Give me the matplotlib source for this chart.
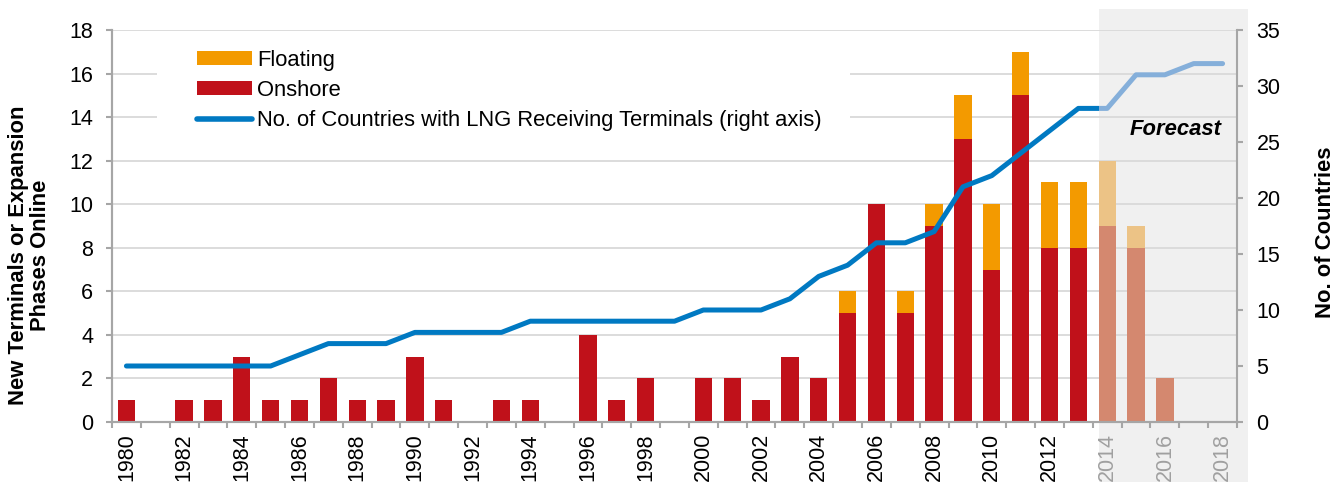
"""LNG receiving terminals: new capacity phases per year with country count."""

import matplotlib

matplotlib.use("Agg")
import matplotlib.pyplot as plt
import matplotlib.transforms as mtransforms
from matplotlib.lines import Line2D
from matplotlib.patches import Patch, Rectangle
import numpy as np

plt.rcParams.update(
    {
        "font.family": ["Liberation Sans", "DejaVu Sans"],
        "font.size": 15.5,
        "text.color": "black",
    }
)

RED = "#C0111A"
ORANGE = "#F39A00"
RED_FC = "#D4886F"
ORANGE_FC = "#ECC386"
BLUE = "#0079C2"
BLUE_FC = "#85AFDA"
GRID = "#D9D9D9"
AXIS = "#A6A6A6"
SHADE = "#F0F0F0"

years = list(range(1980, 2019))
onshore = [1, 0, 1, 1, 3, 1, 1, 2, 1, 1, 3, 1, 0, 1, 1, 0, 4, 1, 2, 0,
           2, 2, 1, 3, 2, 5, 10, 5, 9, 13, 7, 15, 8, 8, 9, 8, 2, 0, 0]
floating = [0, 0, 0, 0, 0, 0, 0, 0, 0, 0, 0, 0, 0, 0, 0, 0, 0, 0, 0, 0,
            0, 0, 0, 0, 0, 1, 0, 1, 1, 2, 3, 2, 3, 3, 3, 1, 0, 0, 0]
countries = [5, 5, 5, 5, 5, 5, 6, 7, 7, 7, 8, 8, 8, 8, 9, 9, 9, 9, 9, 9,
             10, 10, 10, 11, 13, 14, 16, 16, 17, 21, 22, 24, 26, 28, 28, 31, 31, 32, 32]
forecast_from = 2014

x = np.arange(len(years))
is_fc = np.array(years) >= forecast_from
bar_w = 0.6
fc_start = x[is_fc][0] - bar_w / 2

fig = plt.figure(figsize=(13.34, 4.82), dpi=100)
ax = fig.add_axes([112 / 1334, 60 / 482, 1125 / 1334, 392 / 482])
ax2 = ax.twinx()

# forecast band, running past the plot frame
band_tr = mtransforms.blended_transform_factory(ax.transData, fig.transFigure)
ax.add_patch(Rectangle((fc_start, 0), 38.87 - fc_start, 1 - 9 / 482,
                       transform=band_tr, facecolor=SHADE, edgecolor="none",
                       zorder=0.1, clip_on=False))

red_cols = [RED_FC if f else RED for f in is_fc]
orange_cols = [ORANGE_FC if f else ORANGE for f in is_fc]
ax.bar(x, onshore, bar_w, color=red_cols, zorder=2)
ax.bar(x, floating, bar_w, bottom=onshore, color=orange_cols, zorder=2)

# white block behind the legend hides the gridlines there
ax.add_patch(Rectangle((0.04, 0.70), 0.616, 0.25, transform=ax.transAxes,
                       facecolor="white", edgecolor="none", zorder=1))

ax.set_xlim(-0.5, len(years) - 0.5)
ax.set_ylim(0, 18)
ax.set_yticks(np.arange(0, 19, 2))
ax.set_axisbelow(True)
ax.yaxis.grid(True, color=GRID, linewidth=1.3)

label_idx = x[::2]
ax.set_xticks(label_idx)
ax.set_xticklabels([str(years[i]) for i in label_idx], rotation=90, va="top")
for lab, i in zip(ax.get_xticklabels(), label_idx):
    if years[i] >= forecast_from:
        lab.set_color("#A0A0A0")
ax.set_xticks(np.arange(-0.5, len(years)), minor=True)
ax.tick_params(axis="x", which="major", length=0, pad=8, labelsize=15.5)
ax.tick_params(axis="x", which="minor", length=4, width=1.5, color=AXIS)
ax.tick_params(axis="y", length=4.5, width=1.5, color=AXIS, pad=9, labelsize=15.5)

ax2.set_ylim(0, 35)
ax2.set_yticks(np.arange(0, 36, 5))
ax2.tick_params(axis="y", length=4.5, width=1.5, color=AXIS, pad=9.5, labelsize=15.5)

for a in (ax, ax2):
    a.spines["top"].set_visible(False)
    for side in ("left", "right", "bottom"):
        a.spines[side].set_color(AXIS)
        a.spines[side].set_linewidth(1.5)
ax.spines["right"].set_visible(False)

# country count: solid history, faded forecast
hist_line, = ax2.plot(x, countries, color=BLUE, lw=3.6, solid_capstyle="round",
                      solid_joinstyle="round", zorder=3)
hist_line.set_clip_path(Rectangle((-1, -10), fc_start + 1, 100, transform=ax2.transData))
fc_line, = ax2.plot(x, countries, color=BLUE_FC, lw=3.6, solid_capstyle="round",
                    solid_joinstyle="round", zorder=3)
fc_line.set_clip_path(Rectangle((fc_start, -10), 20, 100, transform=ax2.transData))

ax.set_ylabel("New Terminals or Expansion\nPhases Online", fontweight="bold",
              fontsize=15.8, linespacing=1.05)
ax.yaxis.set_label_coords(-0.054, 0.426)
ax2.set_ylabel("No. of Countries", fontweight="bold", fontsize=15.8)
ax2.yaxis.set_label_coords(1.069, 0.485)

ax.text(0.986, 0.745, "Forecast", transform=ax.transAxes, ha="right", va="center",
        fontsize=15.8, fontweight="bold", fontstyle="italic", zorder=4)

handles = [
    Patch(facecolor=ORANGE, edgecolor="none"),
    Patch(facecolor=RED, edgecolor="none"),
    Line2D([], [], color=BLUE, lw=4, solid_capstyle="round"),
]
labels = ["Floating", "Onshore", "No. of Countries with LNG Receiving Terminals (right axis)"]
ax2.legend(handles, labels, loc="upper left", bbox_to_anchor=(0.0756, 0.95),
           frameon=False, fontsize=15.8, handlelength=2.5, handleheight=0.6,
           handletextpad=0.25, labelspacing=0.42, borderpad=0, borderaxespad=0)

fig.savefig("out.png", dpi=100, facecolor="white")
